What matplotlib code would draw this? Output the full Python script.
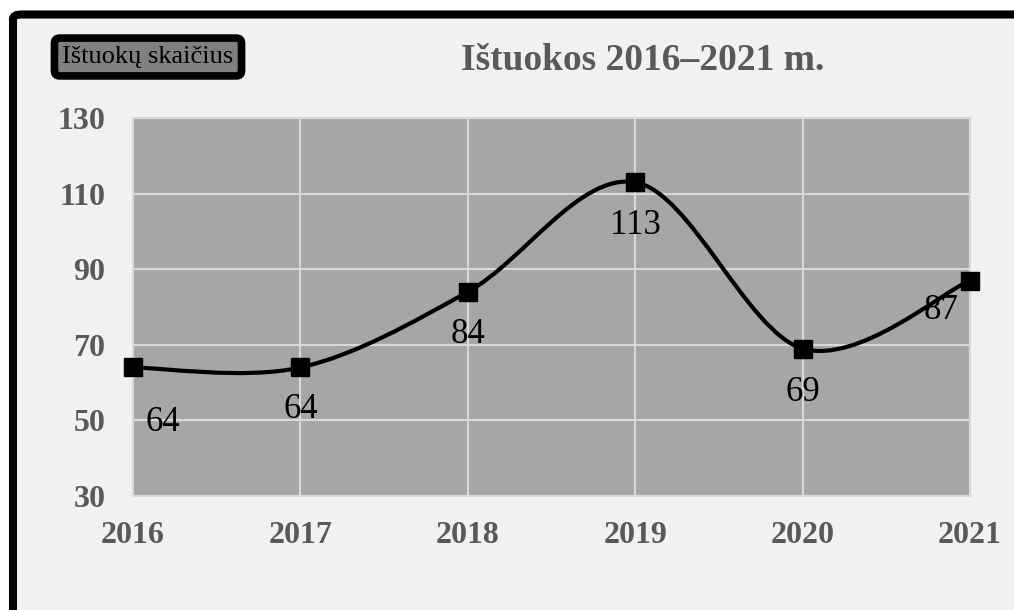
import matplotlib
matplotlib.use("Agg")
import matplotlib.pyplot as plt
from matplotlib.patches import FancyBboxPatch, PathPatch
from matplotlib.path import Path

# Chart data
years = ["2016", "2017", "2018", "2019", "2020", "2021"]
divorces = [64, 64, 84, 113, 69, 87]
y_ticks = [30, 50, 70, 90, 110, 130]

# label offsets in pixels (dx, dy downwards), as placed in the original
label_offsets = [(30, 55), (0, 42), (0, 43), (0, 43), (0, 44), (-29, 30)]

plt.rcParams['font.family'] = ['Liberation Serif', 'DejaVu Serif']

W, H, DPI = 1014, 610, 100
fig = plt.figure(figsize=(W / DPI, H / DPI), dpi=DPI, facecolor='white')

# outer rounded frame (runs off the right and bottom edges)
frame = FancyBboxPatch((13 / W, -0.1), 1.1, 1 - 14.5 / H + 0.1,
                       boxstyle="round,pad=0,rounding_size=0.008",
                       transform=fig.transFigure, facecolor='#f1f1f1',
                       edgecolor='black', linewidth=5.8, zorder=-10)
fig.patches.append(frame)

ax = fig.add_axes([133 / W, 1 - 496 / H, (970 - 133) / W, (496 - 118) / H])
ax.set_facecolor('#a6a6a6')

x = list(range(len(years)))

# smoothed line (Catmull-Rom style bezier, like Excel's smoothing)
verts = [(x[0], divorces[0])]
codes = [Path.MOVETO]
n = len(x)
for i in range(n - 1):
    p0 = (x[max(i - 1, 0)], divorces[max(i - 1, 0)])
    p1 = (x[i], divorces[i])
    p2 = (x[i + 1], divorces[i + 1])
    p3 = (x[min(i + 2, n - 1)], divorces[min(i + 2, n - 1)])
    c1 = (p1[0] + (p2[0] - p0[0]) / 6, p1[1] + (p2[1] - p0[1]) / 6)
    c2 = (p2[0] - (p3[0] - p1[0]) / 6, p2[1] - (p3[1] - p1[1]) / 6)
    verts += [c1, c2, p2]
    codes += [Path.CURVE4] * 3
ax.add_patch(PathPatch(Path(verts, codes), facecolor='none', edgecolor='black',
                       linewidth=3, zorder=3, clip_on=False))
ax.plot(x, divorces, linestyle='none', marker='s', markersize=13,
        color='black', zorder=4, clip_on=False)

# data labels
for xi, val, (dx, dy) in zip(x, divorces, label_offsets):
    ax.annotate(str(val), (xi, val), xytext=(dx * 0.72, -dy * 0.72),
                textcoords='offset points', ha='center', va='center',
                fontsize=25, color='black', zorder=5)

ax.set_xlim(0, n - 1)
ax.set_ylim(30, 130)
ax.set_xticks(x)
ax.set_xticklabels(years)
ax.set_yticks(y_ticks)
ax.grid(True, color='#d9d9d9', linewidth=1.5)
ax.set_axisbelow(True)
for s in ax.spines.values():
    s.set_color('#d9d9d9')
    s.set_linewidth(1.5)
ax.tick_params(length=0, colors='#595959', labelsize=23)
ax.tick_params(axis='x', pad=18)
ax.tick_params(axis='y', pad=20)
for lab in ax.get_xticklabels() + ax.get_yticklabels():
    lab.set_fontweight('bold')

# title
fig.text(643 / W, 1 - 60 / H, "Ištuokos 2016–2021 m.", ha='center', va='center',
         fontsize=27, fontweight='bold', color='#595959')

# legend box
fig.text(148 / W, 1 - 57 / H, "Ištuokų skaičius", ha='center', va='center',
         fontsize=19, color='black',
         bbox=dict(boxstyle='round,pad=0.3,rounding_size=0.2',
                   facecolor='#808080', edgecolor='black', linewidth=5.5))

fig.savefig('out.png', dpi=DPI, facecolor=fig.get_facecolor())
